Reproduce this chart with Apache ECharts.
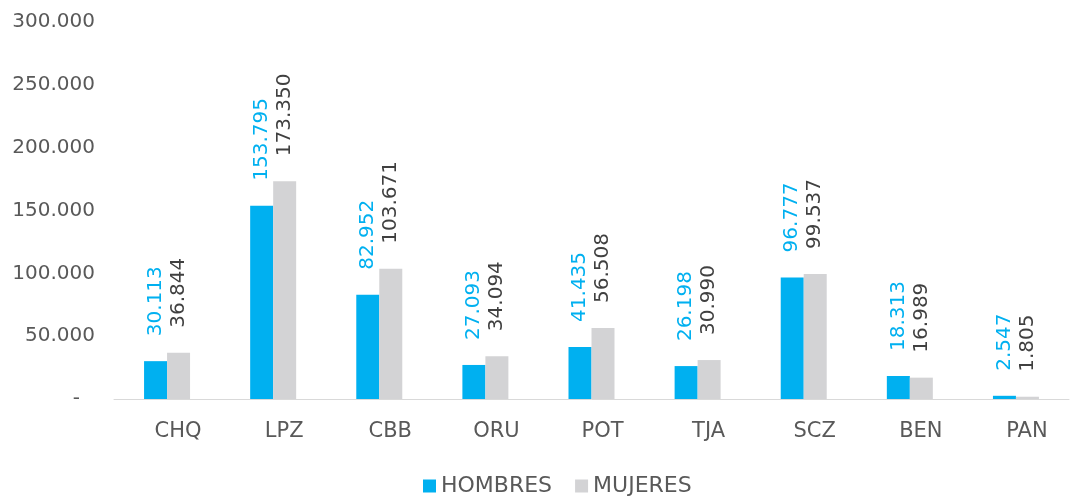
<!DOCTYPE html>
<html>
<head>
<meta charset="utf-8">
<script src="https://cdn.jsdelivr.net/npm/echarts@6/dist/echarts.min.js"></script>
<style>html,body{margin:0;padding:0;background:#fff}#c{width:1070px;height:496px}</style>
</head>
<body>
<div id="c"></div>
<script>
var categories = ['CHQ','LPZ','CBB','ORU','POT','TJA','SCZ','BEN','PAN'];
var hombres = [30113,153795,82952,27093,41435,26198,96777,18313,2547];
var mujeres = [36844,173350,103671,34094,56508,30990,99537,16989,1805];
var seriesNames = ['HOMBRES','MUJERES'];

function fmt(v){
  if (v === 0) return '-';
  return String(Math.round(v)).replace(/\B(?=(\d{3})+(?!\d))/g, '.');
}
var FONT = 'DejaVu Sans';
var chart = echarts.init(document.getElementById('c'), null, {renderer:'canvas'});
function lbl(color){
  return {show:true, position:'top', rotate:90, align:'left', verticalAlign:'middle',
    distance:25, color:color, fontSize:20, fontFamily:FONT,
    formatter:function(p){return fmt(p.value);}};
}
chart.setOption({
  animation:false,
  textStyle:{fontFamily:FONT},
  grid:{left:114, right:1, top:22, bottom:97, containLabel:false},
  legend:{top:470, left:418, icon:'rect', itemWidth:13, itemHeight:13, itemGap:23,
    textStyle:{fontSize:22, color:'#595959', fontFamily:FONT},
    data:seriesNames},
  xAxis:{type:'category', data:categories,
    axisLine:{lineStyle:{color:'#D9D9D9', width:1}}, axisTick:{show:false},
    axisLabel:{fontSize:21, color:'#595959', margin:22, fontFamily:FONT, padding:[0,0,0,22]}},
  yAxis:{type:'value', min:0, max:300000, interval:50000,
    axisLine:{show:false}, axisTick:{show:false}, splitLine:{show:false},
    axisLabel:{fontSize:20, color:'#595959', margin:19, fontFamily:FONT,
      formatter:function(v){ return v === 0 ? '{d|-}{s|0}' : fmt(v); },
      rich:{
        d:{fontSize:20, color:'#595959', fontFamily:FONT},
        s:{fontSize:20, color:'rgba(0,0,0,0)', fontFamily:FONT, width:15}
      }}},
  series:[
    {name:seriesNames[0], type:'bar', data:hombres, barWidth:23, barGap:'0%',
     itemStyle:{color:'#00B0F0'}, label:lbl('#00B0F0')},
    {name:seriesNames[1], type:'bar', data:mujeres, barWidth:23, barGap:'0%',
     itemStyle:{color:'#D3D3D5'}, label:lbl('#404040')}
  ]
});
</script>
</body>
</html>
